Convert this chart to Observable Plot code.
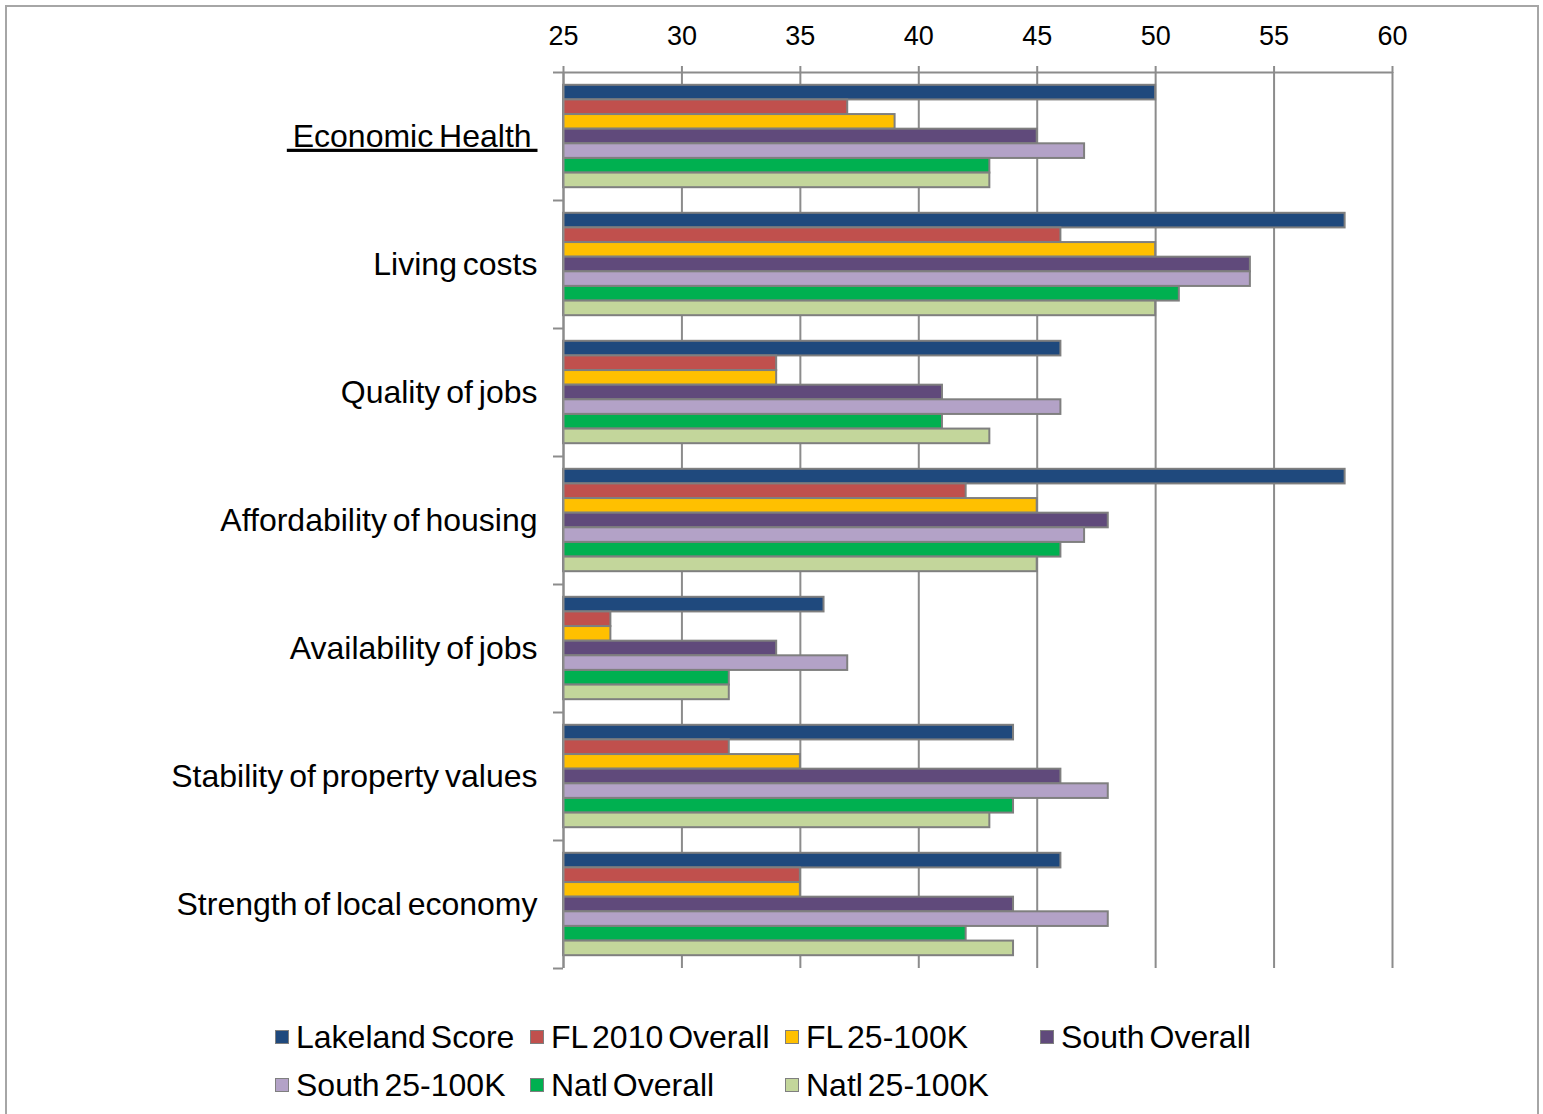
<!DOCTYPE html>
<html>
<head>
<meta charset="utf-8">
<script src="https://cdn.jsdelivr.net/npm/d3@7"></script>
<script src="https://cdn.jsdelivr.net/npm/@observablehq/plot@0.6"></script>
<style>
  html, body { margin: 0; padding: 0; background: #fff; }
  body { width: 1543px; height: 1114px; overflow: hidden; position: relative; font-family: "Liberation Sans", Arial, sans-serif; }
  #frame { position: absolute; left: 5px; top: 5px; width: 1530px; height: 1120px; border: 2px solid #a6a6a6; }
  #chart svg { display: block; }
  #legend { padding-top: 3px; margin-left: 268px; display: grid; grid-template-columns: repeat(4, 255px); }
  .item { height: 48px; display: flex; align-items: center; font-size: 32px; color: #000; white-space: nowrap; word-spacing: -4px; }
  .sw { width: 12px; height: 12px; border: 1.5px solid #7f7f7f; margin-right: 7px; flex: none; }
</style>
</head>
<body>
<div id="frame">
  <div id="chart"></div>
  <div id="legend"></div>
</div>
<script>
// ---- data ----
const categories = ["Economic Health", "Living costs", "Quality of jobs", "Affordability of housing", "Availability of jobs", "Stability of property values", "Strength of local economy"];
const seriesNames = ["Lakeland Score", "FL 2010 Overall", "FL 25-100K", "South Overall", "South 25-100K", "Natl Overall", "Natl 25-100K"];
const seriesColors = ["#1f497d", "#c0504d", "#ffc000", "#604a7b", "#b3a2c7", "#00b050", "#c3d69b"];
const lakelandScore  = [50, 58, 46, 58, 36, 44, 46];
const fl2010Overall  = [37, 46, 34, 42, 27, 32, 35];
const fl25to100K     = [39, 50, 34, 45, 27, 35, 35];
const southOverall   = [45, 54, 41, 48, 34, 46, 44];
const south25to100K  = [47, 54, 46, 47, 37, 48, 48];
const natlOverall    = [43, 51, 41, 46, 32, 44, 42];
const natl25to100K   = [43, 50, 43, 45, 32, 43, 44];
const xTicks = [25, 30, 35, 40, 45, 50, 55, 60];
const axisMin = 25;

// ---- build table ----
const seriesValues = [lakelandScore, fl2010Overall, fl25to100K, southOverall, south25to100K, natlOverall, natl25to100K];
const nS = seriesNames.length;
const groupPad = 0.1;
const barH = (1 - 2 * groupPad) / nS;
const rows = [];
categories.forEach((cat, ci) => {
  seriesNames.forEach((s, si) => {
    const y1 = ci + groupPad + si * barH;
    rows.push({category: cat, series: s, value: seriesValues[si][ci], y1, y2: y1 + barH});
  });
});
const boundaries = d3.range(categories.length + 1);
const centers = categories.map((c, i) => i + 0.5);

const gray = "#8c8c8c";
const chart = Plot.plot({
  width: 1530,
  height: 1003,
  marginLeft: 556,
  marginRight: 145,
  marginTop: 65,
  marginBottom: 42,
  style: {fontFamily: "'Liberation Sans', Arial, sans-serif", color: "#000", background: "#fff", overflow: "visible"},
  x: {domain: [25, 60], label: null},
  y: {domain: [0, categories.length], reverse: true, label: null},
  color: {domain: seriesNames, range: seriesColors},
  marks: [
    Plot.gridX({ticks: xTicks, stroke: gray, strokeOpacity: 1, strokeWidth: 2}),
    Plot.rect(rows, {x1: () => axisMin, x2: "value", y1: "y1", y2: "y2", fill: "series", stroke: "#7f7f7f", strokeWidth: 2}),
    Plot.ruleX([axisMin], {stroke: gray, strokeWidth: 2}),
    Plot.ruleY([0], {stroke: gray, strokeWidth: 2}),
    Plot.axisX({anchor: "top", label: null, ticks: xTicks, tickSize: 7, tickPadding: 21, fontSize: 27, stroke: gray, strokeWidth: 2, tickFormat: d => String(d)}),
    Plot.axisY({anchor: "left", label: null, ticks: boundaries, tickSize: 10, tickFormat: () => "", stroke: gray, strokeWidth: 2}),
    Plot.axisY({anchor: "left", label: null, ticks: centers, tickSize: 0, tickPadding: 26, fontSize: 32,
      tickFormat: v => { const c = categories[Math.floor(v)]; return c === "Economic Health" ? "\u00a0" + c + "\u00a0" : c; }})
  ]
});
d3.select(chart).selectAll("text")
  .filter(function() { return this.textContent.includes("Economic Health"); })
  .style("text-decoration", "underline");
d3.select(chart).selectAll("text")
  .filter(function() { return categories.some(c => this.textContent.includes(c)); })
  .style("word-spacing", "-3px");
document.getElementById("chart").appendChild(chart);

// ---- legend ----
const legend = d3.select("#legend");
seriesNames.forEach((s, i) => {
  const it = legend.append("div").attr("class", "item");
  it.append("span").attr("class", "sw").style("background", seriesColors[i]);
  it.append("span").text(s);
});
</script>
</body>
</html>
